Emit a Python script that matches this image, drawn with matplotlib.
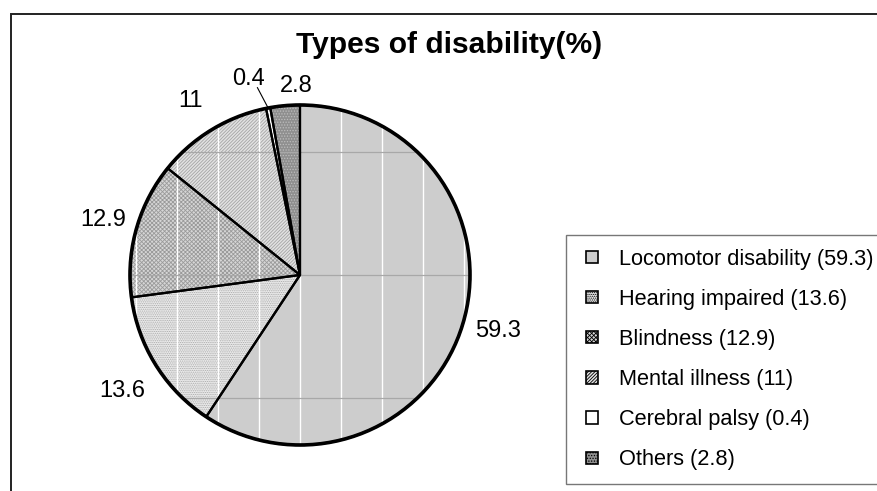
import matplotlib
matplotlib.use("Agg")
import matplotlib.pyplot as plt
from matplotlib import font_manager
from matplotlib.patches import Patch, Circle, Rectangle
from matplotlib.lines import Line2D
from matplotlib.legend_handler import HandlerPatch
import numpy as np

# ---- data -------------------------------------------------------------
categories = ["Locomotor disability", "Hearing impaired", "Blindness",
              "Mental illness", "Cerebral palsy", "Others"]
values = [59.3, 13.6, 12.9, 11, 0.4, 2.8]
value_labels = ["59.3", "13.6", "12.9", "11", "0.4", "2.8"]
legend_labels = [f"{c} ({v})" for c, v in zip(categories, value_labels)]

# fill / hatch styling per slice
face_colors = ["#cdcdcd", "#ececec", "#d6d6d6", "#e2e2e2", "#ffffff", "#8f8f8f"]
hatch_colors = ["#c2c2c2", "#a8a8a8", "#9a9a9a", "#a4a4a4", "#ffffff", "#bdbdbd"]
hatches = [None, ".........", "xxxxxxxx", "//////////", None, "......"]

# label placement: radial factor and angular nudge (deg) from slice middle
label_r = [1.21, 1.25, 1.20, 1.21, 1.19, 1.11]
label_da = [1, 1, 0, 1, 4, -4]

plt.rcParams["hatch.linewidth"] = 0.6

names = {f.name for f in font_manager.fontManager.ttflist}
narrow = "Liberation Sans Narrow" if "Liberation Sans Narrow" in names else "Liberation Sans"
regular = "Liberation Sans"

W, H = 877, 491
fig = plt.figure(figsize=(W / 100, H / 100), dpi=100)
ax = fig.add_axes([0, 0, 1, 1])

cx, cy, R = 300, H - 275, 170

# fill pass
wedges, _ = ax.pie(values, startangle=90, counterclock=False,
                   center=(cx, cy), radius=R,
                   wedgeprops=dict(linewidth=0))
for w, fc, hc, h in zip(wedges, face_colors, hatch_colors, hatches):
    w.set_facecolor(fc)
    w.set_edgecolor(hc)
    w.set_linewidth(0)
    if h:
        w.set_hatch(h)

# faint scan grid over the pie
clip = Circle((cx, cy), R, transform=ax.transData)
for k in range(-4, 5):
    x = cx + 41 * k
    ln = Line2D([x, x], [cy - R, cy + R], color="white", lw=1.0, zorder=2)
    ax.add_line(ln)
    ln.set_clip_path(clip)
for k in range(-1, 2):
    y = cy + 123 * k
    ln = Line2D([cx - R, cx + R], [y, y], color="#a8a8a8", lw=0.9, zorder=2)
    ax.add_line(ln)
    ln.set_clip_path(clip)

# edge pass
edges, _ = ax.pie(values, startangle=90, counterclock=False,
                  center=(cx, cy), radius=R,
                  wedgeprops=dict(facecolor="none", edgecolor="black",
                                  linewidth=1.6, zorder=3))
ax.add_patch(Circle((cx, cy), R, facecolor="none", edgecolor="black",
                    lw=2.6, zorder=4))

# value labels
for w, lab, rf, da in zip(wedges, value_labels, label_r, label_da):
    mid = np.deg2rad((w.theta1 + w.theta2) / 2 + da)
    ax.text(cx + rf * R * np.cos(mid), cy + rf * R * np.sin(mid), lab,
            ha="center", va="center", fontsize=17, family=narrow, zorder=5)

# leader line for the thin slice
w = wedges[4]
mid = np.deg2rad((w.theta1 + w.theta2) / 2)
tip = np.deg2rad((w.theta1 + w.theta2) / 2 + 2)
ax.plot([cx + R * np.cos(mid), cx + 1.13 * R * np.cos(tip)],
        [cy + R * np.sin(mid), cy + 1.13 * R * np.sin(tip)],
        color="black", lw=0.8, zorder=5)

ax.set_xlim(0, W)
ax.set_ylim(0, H)
ax.set_aspect("auto")
ax.axis("off")

# title
ax.text(449, H - 53, "Types of disability(%)", ha="center", va="baseline",
        fontsize=21.6, fontweight="bold", family=narrow)

# outer frame (top and left edges visible)
ax.plot([11, 11, W + 10], [-10, H - 14, H - 14], color="#222222", lw=1.4,
        solid_joinstyle="miter", clip_on=False)


# legend with small square keys centred in their handle box
def small_square(legend, orig_handle, xdescent, ydescent, width, height, fontsize):
    s = 0.57 * fontsize
    return Rectangle((-xdescent + (width - s) / 2, -ydescent + (height - s) / 2), s, s)


handles = [Patch(facecolor=fc, edgecolor="black", hatch=h, linewidth=1.2)
           for fc, h in zip(face_colors, hatches)]
leg = ax.legend(handles, legend_labels, loc="upper left",
                bbox_to_anchor=(566, H - 235), bbox_transform=ax.transData,
                prop=dict(family=regular, size=15.7), frameon=True,
                fancybox=False, borderaxespad=0, borderpad=0.62,
                labelspacing=0.88, handlelength=1.12, handleheight=0.7,
                handletextpad=0.68,
                handler_map={Patch: HandlerPatch(patch_func=small_square)})
leg.get_frame().set_edgecolor("#555555")
leg.get_frame().set_linewidth(1.0)

fig.savefig("out.png", dpi=100)
